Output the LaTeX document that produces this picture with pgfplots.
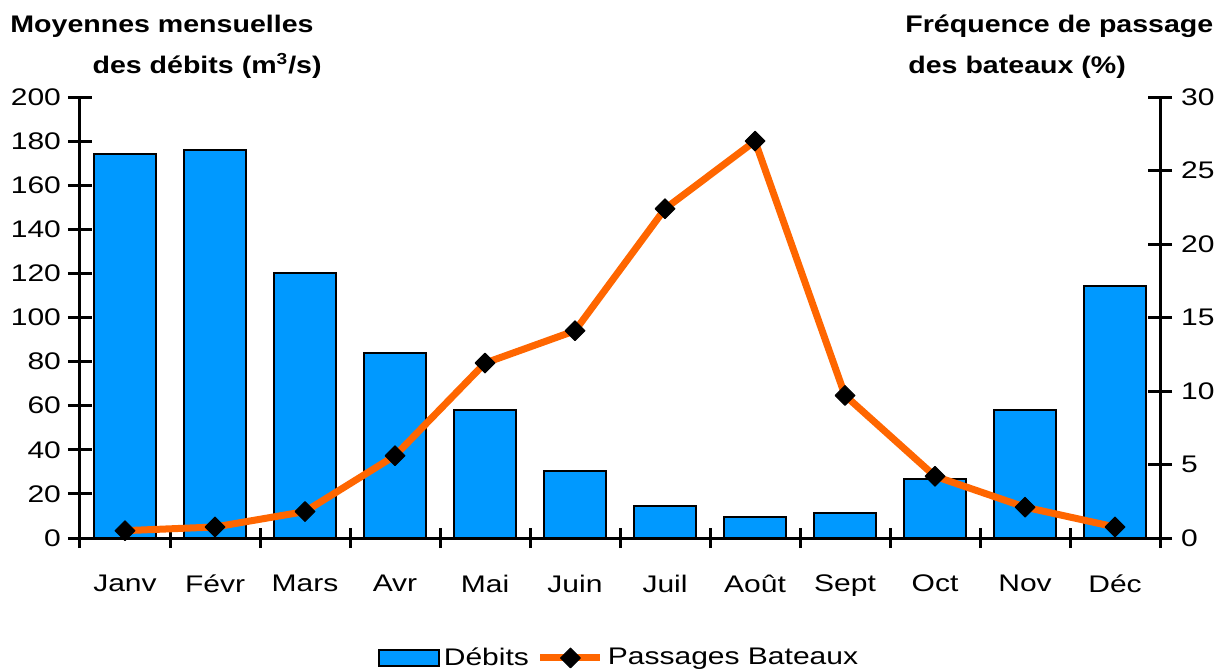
\documentclass[border=0pt]{standalone}
\usepackage{fontspec}
\setmainfont[FakeStretch=1.25]{Liberation Sans}
\newfontfamily\titlefont[FakeStretch=1.19]{Liberation Sans}
\usepackage{pgfplots}
\pgfplotsset{compat=1.18}
\usetikzlibrary{calc}
\definecolor{debit}{HTML}{0099FF}
\definecolor{bateau}{HTML}{FF6600}
\pgfplotsset{
  lineleg/.style={legend image code/.code={\draw[##1, mark repeat=2, mark phase=2] plot coordinates {(0pt,0pt) (15pt,0pt) (30pt,0pt)};}},
  barleg/.style={legend image code/.code={\draw[fill=debit, draw=black, line width=1pt] (0pt,-4pt) rectangle (30pt,4pt);}},
}

\begin{document}
\begin{tikzpicture}[font=\fontsize{12}{14}\selectfont]
\pgfplotsset{
  common/.style={
    scale only axis, width=540pt, height=220.5pt,
    xmin=-0.5, xmax=11.5,
    /pgf/number format/assume math mode=true,
    tick align=center,
    major tick length=12pt,
    minor tick length=10pt,
    every tick/.style={black, line width=1.5pt},
    axis line style={line width=1.5pt},
    ticklabel style={font=\fontsize{12}{14}\selectfont},
  }
}
\begin{axis}[common, name=ax,
  axis x line*=bottom, axis y line*=left,
  ymin=0, ymax=200, ytick={0,20,...,200},
  xtick={0,...,11},
  xticklabels={Janv,Févr,Mars,Avr,Mai,Juin,Juil,Août,Sept,Oct,Nov,Déc},
  major x tick style={draw=none},
  minor xtick={-0.5,0.5,...,11.5},
  xticklabel style={yshift=-9pt},
]
\addplot[ybar, bar width=31pt, bar shift=0pt, fill=debit, draw=black, line width=1pt]
  coordinates {(0,174) (1,176) (2,120) (3,84) (4,58) (5,30.4) (6,14.5) (7,9.5) (8,11.3) (9,26.8) (10,58) (11,114.3)};
\end{axis}
\begin{axis}[common,
  axis x line=none, axis y line*=right,
  ymin=0, ymax=30, ytick={0,5,...,30},
  yticklabel style={xshift=1pt},
  legend style={at={(0.5,-0.272)}, anchor=center, legend columns=-1, draw=none,
    font=\fontsize{12}{14}\selectfont,
    /tikz/every even column/.append style={column sep=2pt}},
]
\addlegendimage{barleg}
\addlegendentry{Débits}
\addplot[bateau, line width=3.5pt, line join=round, mark=square*, mark size=3.5pt,
  mark options={black, fill=black, line width=0.5pt, rotate=45}, lineleg]
  coordinates {(0,0.5) (1,0.75) (2,1.8) (3,5.6) (4,11.9) (5,14.1) (6,22.4) (7,27.0) (8,9.7) (9,4.2) (10,2.1) (11,0.75)};
\addlegendentry{Passages Bateaux}
\end{axis}
\begin{scope}[every node/.style={inner sep=0pt, font=\titlefont\bfseries\fontsize{12}{14}\selectfont}]
\node[anchor=base west] at ($(ax.north west)+(-35pt,32.5pt)$) {Moyennes mensuelles};
\node[anchor=base east] at ($(ax.north west)+(121pt,12pt)$) {des débits (m\textsuperscript{3}/s)};
\node[anchor=base west] at ($(ax.north east)+(-127.5pt,32.5pt)$) {Fréquence de passage};
\node[anchor=base west] at ($(ax.north east)+(-126pt,12pt)$) {des bateaux (\%)};
\end{scope}
\pgfresetboundingbox
\path ($(ax.south west)+(-40pt,-66.5pt)$) rectangle ($(ax.north east)+(34.5pt,48.5pt)$);
\end{tikzpicture}
\end{document}
